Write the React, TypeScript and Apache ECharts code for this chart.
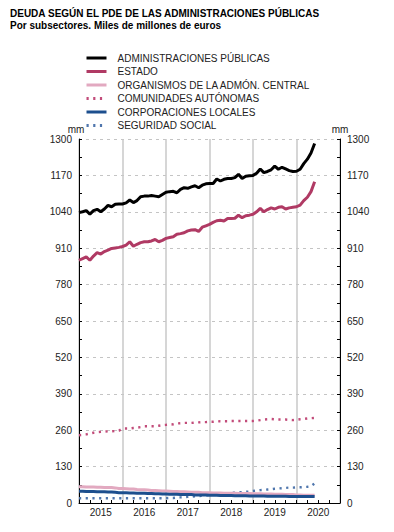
import React, { useEffect, useRef } from "react";
import * as echarts from "echarts";

const years = ["2015", "2016", "2017", "2018", "2019", "2020"];

const administraciones = [
  1037, 1040, 1044, 1032, 1044, 1049, 1040, 1050, 1063, 1058, 1067, 1068,
  1068, 1072, 1082, 1073, 1080, 1094, 1096, 1096, 1098, 1096, 1094, 1102,
  1110, 1112, 1113, 1108, 1120, 1126, 1124, 1129, 1133, 1126, 1135, 1140,
  1141, 1141, 1157, 1150, 1156, 1159, 1159, 1162, 1174, 1159, 1167, 1169,
  1170, 1178, 1193, 1180, 1184, 1190, 1203, 1192, 1199, 1193, 1187, 1184,
  1185, 1192, 1212, 1228, 1250, 1284,
];

const estado = [
  867, 873, 879, 867, 882, 894, 889, 898, 903, 909, 911, 913,
  916, 921, 933, 917, 924, 930, 933, 933, 936, 941, 933, 938,
  945, 948, 951, 960, 962, 965, 972, 975, 976, 970, 985, 990,
  995, 1002, 1008, 1010, 1007, 1016, 1016, 1017, 1028, 1019, 1026, 1028,
  1031, 1040, 1052, 1040, 1048, 1054, 1050, 1056, 1058, 1050, 1054, 1056,
  1058, 1064, 1080, 1092, 1112, 1147,
];

const organismos = [
  58, 58, 57, 57, 57, 56, 56, 55, 55, 55, 54, 52,
  52, 51, 50, 50, 48, 47, 47, 46, 45, 45, 44, 43,
  43, 42, 41, 41, 40, 40, 39, 38, 38, 38, 37, 37,
  37, 36, 36, 36, 35, 35, 35, 35, 34, 34, 34, 34,
  33, 33, 33, 32, 32, 32, 31, 31, 31, 30, 30, 30,
  29, 29, 28, 28, 28, 28,
];

const comunidades = [
  242, 243, 245, 248, 251, 253, 254, 255, 256, 256, 257, 258,
  266, 266, 266, 268, 269, 271, 274, 274, 274, 274, 276, 278,
  279, 280, 281, 284, 285, 286, 286, 286, 287, 288, 289, 289,
  290, 290, 291, 292, 292, 292, 293, 293, 293, 293, 293, 293,
  293, 294, 296, 298, 299, 300, 299, 298, 298, 298, 297, 296,
  297, 299, 300, 302, 303, 304,
];

const corporaciones = [
  42, 42, 41, 41, 41, 40, 40, 40, 39, 39, 38, 37,
  37, 37, 36, 36, 35, 35, 35, 34, 34, 33, 33, 32,
  32, 31, 31, 31, 30, 30, 30, 30, 29, 29, 29, 29,
  28, 28, 28, 27, 27, 27, 27, 26, 26, 26, 26, 25,
  25, 25, 25, 25, 24, 24, 24, 24, 24, 24, 23, 23,
  23, 23, 23, 23, 23, 23,
];

const seguridadSocial = [
  17, 17, 17, 17, 17, 17, 17, 17, 17, 17, 17, 17,
  17, 17, 17, 17, 17, 17, 17, 17, 17, 17, 17, 17,
  17, 18, 18, 20, 20, 21, 22, 23, 24, 25, 26, 27,
  28, 29, 30, 32, 33, 35, 36, 37, 38, 39, 40, 41,
  43, 44, 46, 47, 48, 49, 51, 52, 53, 54, 55, 55,
  56, 56, 57, 58, 60, 70,
];

const seriesNames = [
  "ADMINISTRACIONES PÚBLICAS",
  "ESTADO",
  "ORGANISMOS DE LA ADMÓN. CENTRAL",
  "COMUNIDADES AUTÓNOMAS",
  "CORPORACIONES LOCALES",
  "SEGURIDAD SOCIAL",
];

const toPairs = (arr: number[]) => arr.map((v, i) => [i, v]);

export default function App() {
  const ref = useRef<HTMLDivElement>(null);

  useEffect(() => {
    if (!ref.current) return;
    const chart = echarts.init(ref.current, undefined, { renderer: "svg" });
    const font = "Liberation Sans, Arial, sans-serif";
    const yAxisBase = {
      type: "value",
      min: 0,
      max: 1300,
      interval: 130,
      name: "mm",
      nameLocation: "end",
      nameGap: 1,
      nameTextStyle: { fontSize: 10, color: "#222", fontFamily: font },
      axisLine: { show: true, lineStyle: { color: "#000", width: 1 } },
      axisTick: { show: true, inside: true, length: 3, lineStyle: { color: "#000" } },
      minorTick: { show: true, splitNumber: 2, length: 3, lineStyle: { color: "#000" } },
      axisLabel: {
        fontSize: 10,
        color: "#222",
        margin: 7,
        fontFamily: font,
        formatter: (v: number) => String(v),
      },
    };
    const lineSeries = (
      name: string,
      data: number[],
      color: string,
      dotted: boolean,
      width: number
    ) => ({
      name,
      type: "line",
      xAxisIndex: 0,
      yAxisIndex: 0,
      data: toPairs(data),
      showSymbol: false,
      symbol: "none",
      color,
      lineStyle: {
        color,
        width,
        type: dotted ? [2.2, 4.5] : "solid",
        cap: "butt",
      },
    });
    chart.setOption({
      animation: false,
      backgroundColor: "#fff",
      textStyle: { fontFamily: font },
      title: {
        text: "DEUDA SEGÚN EL PDE DE LAS ADMINISTRACIONES PÚBLICAS",
        subtext: "Por subsectores. Miles de millones de euros",
        left: 10,
        top: 8,
        padding: 0,
        itemGap: 2,
        textStyle: { fontSize: 10, fontWeight: "bold", color: "#000", fontFamily: font },
        subtextStyle: { fontSize: 10, fontWeight: "bold", color: "#000", fontFamily: font },
      },
      legend: {
        orient: "vertical",
        left: 85,
        top: 53,
        padding: 0,
        itemGap: 3.5,
        itemWidth: 20,
        itemHeight: 10,
        data: seriesNames,
        itemStyle: { opacity: 0, borderWidth: 0 },
        lineStyle: { width: 3 },
        textStyle: { fontSize: 10, color: "#222", fontFamily: font, padding: [0, 0, 0, 6] },
      },
      grid: { left: 79, right: 54, top: 139, bottom: 29 },
      xAxis: [
        {
          type: "value",
          min: 0,
          max: 72,
          interval: 12,
          position: "bottom",
          axisLine: { show: true, lineStyle: { color: "#000", width: 1 } },
          axisTick: { show: true, inside: true, length: 3, lineStyle: { color: "#000" } },
          minorTick: { show: true, splitNumber: 4, length: 3, lineStyle: { color: "#000" } },
          axisLabel: { show: false },
          splitLine: { show: true, lineStyle: { color: "#c8c8c8", width: 1.5 } },
        },
        {
          type: "category",
          data: years,
          position: "bottom",
          boundaryGap: true,
          axisLine: { show: false },
          axisTick: { show: false },
          splitLine: { show: false },
          axisLabel: { fontSize: 10, color: "#222", margin: 4, fontFamily: font },
        },
      ],
      yAxis: [
        {
          ...yAxisBase,
          position: "left",
          nameTextStyle: { ...yAxisBase.nameTextStyle, padding: [0, 6, 0, 0] },
          splitLine: { show: true, lineStyle: { color: "#c4c4c4", type: [3, 4], width: 1 } },
        },
        {
          ...yAxisBase,
          position: "right",
          splitLine: { show: false },
        },
      ],
      series: [
        lineSeries(seriesNames[5], seguridadSocial, "#4f76ad", true, 2.4),
        lineSeries(seriesNames[2], organismos, "#e2a9c0", false, 3),
        lineSeries(seriesNames[4], corporaciones, "#1d4f8e", false, 3),
        lineSeries(seriesNames[3], comunidades, "#c24c7a", true, 2.4),
        lineSeries(seriesNames[1], estado, "#b03a64", false, 3),
        lineSeries(seriesNames[0], administraciones, "#000000", false, 3),
      ],
    });
    return () => chart.dispose();
  }, []);

  return (
    <div
      ref={ref}
      style={{ position: "absolute", left: 0, top: 0, width: 394, height: 532 }}
    />
  );
}
